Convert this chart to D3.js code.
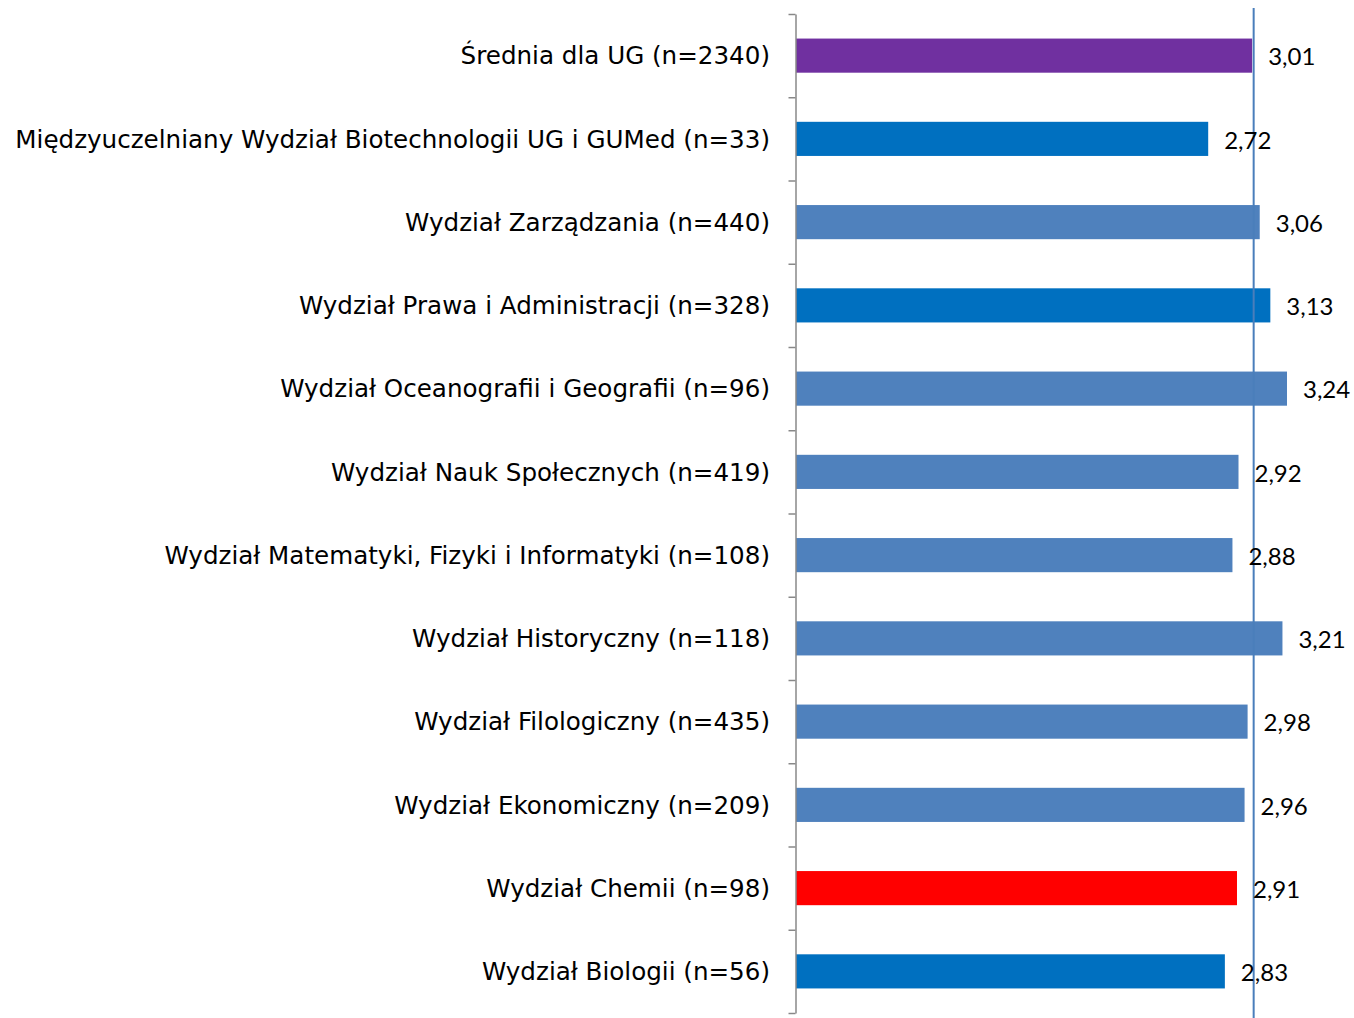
<!DOCTYPE html>
<html><head><meta charset="utf-8">
<script src="https://cdn.jsdelivr.net/npm/d3@7"></script>
<style>body{margin:0;background:#fff}svg{display:block}</style>
</head><body>
<svg id="c" width="1354" height="1018"></svg>
<script>
const categories = [
  "Średnia dla UG (n=2340)",
  "Międzyuczelniany Wydział Biotechnologii UG i GUMed (n=33)",
  "Wydział Zarządzania (n=440)",
  "Wydział Prawa i Administracji (n=328)",
  "Wydział Oceanografii i Geografii (n=96)",
  "Wydział Nauk Społecznych (n=419)",
  "Wydział Matematyki, Fizyki i Informatyki (n=108)",
  "Wydział Historyczny (n=118)",
  "Wydział Filologiczny (n=435)",
  "Wydział Ekonomiczny (n=209)",
  "Wydział Chemii (n=98)",
  "Wydział Biologii (n=56)"
];
const values = [3.01, 2.72, 3.06, 3.13, 3.24, 2.92, 2.88, 3.21, 2.98, 2.96, 2.91, 2.83];
const barColors = ["#7030a0","#0070c0","#4f81bd","#0070c0","#4f81bd","#4f81bd","#4f81bd","#4f81bd","#4f81bd","#4f81bd","#ff0000","#0070c0"];
const referenceLine = [3.02];

const svg = d3.select("#c");
const x = d3.scaleLinear().domain([0, 3.24]).range([796, 1287]);
const y = d3.scaleBand().domain(categories).range([14, 1013]).padding(0);
const barH = y.bandwidth() * 0.41;
const tickScale = d3.scaleLinear().domain([0, categories.length]).range([14, 1013]);

svg.selectAll("rect.bar").data(values).join("rect")
  .attr("class","bar")
  .attr("x", x(0))
  .attr("y", (d,i) => y(categories[i]) + (y.bandwidth()-barH)/2)
  .attr("width", d => x(d) - x(0))
  .attr("height", barH)
  .attr("fill", (d,i) => barColors[i]);

const ax = svg.append("g").attr("transform", `translate(${x(0)-0.5},0)`)
  .call(d3.axisLeft(tickScale).tickValues(d3.range(categories.length+1)).tickFormat("").tickSize(7).tickSizeOuter(0));
ax.selectAll("path,line").attr("stroke","#888").attr("stroke-width",1.5);

svg.selectAll("text.cat").data(categories).join("text")
  .attr("class","cat")
  .attr("x", x(0) - 26)
  .attr("y", d => y(d) + y.bandwidth()/2)
  .attr("dy","0.36em")
  .attr("text-anchor","end")
  .attr("font-family","'DejaVu Sans',sans-serif")
  .attr("font-size", 24.6)
  .attr("fill","#000")
  .text(d => d);

svg.selectAll("line.ref").data(referenceLine).join("line")
  .attr("class","ref")
  .attr("x1", d => x(d)).attr("x2", d => x(d))
  .attr("y1", 8).attr("y2", 1018)
  .attr("stroke","#4a7ebb").attr("stroke-width",2);

svg.selectAll("text.val").data(values).join("text")
  .attr("class","val")
  .attr("x", d => x(d) + 16)
  .attr("y", (d,i) => y(categories[i]) + y.bandwidth()/2 + 1)
  .attr("dy","0.36em")
  .attr("font-family","Lato, 'Noto Sans', sans-serif")
  .attr("font-size", 24)
  .attr("fill","#000")
  .text(d => d.toFixed(2).replace(".", ","));
</script>
</body></html>
